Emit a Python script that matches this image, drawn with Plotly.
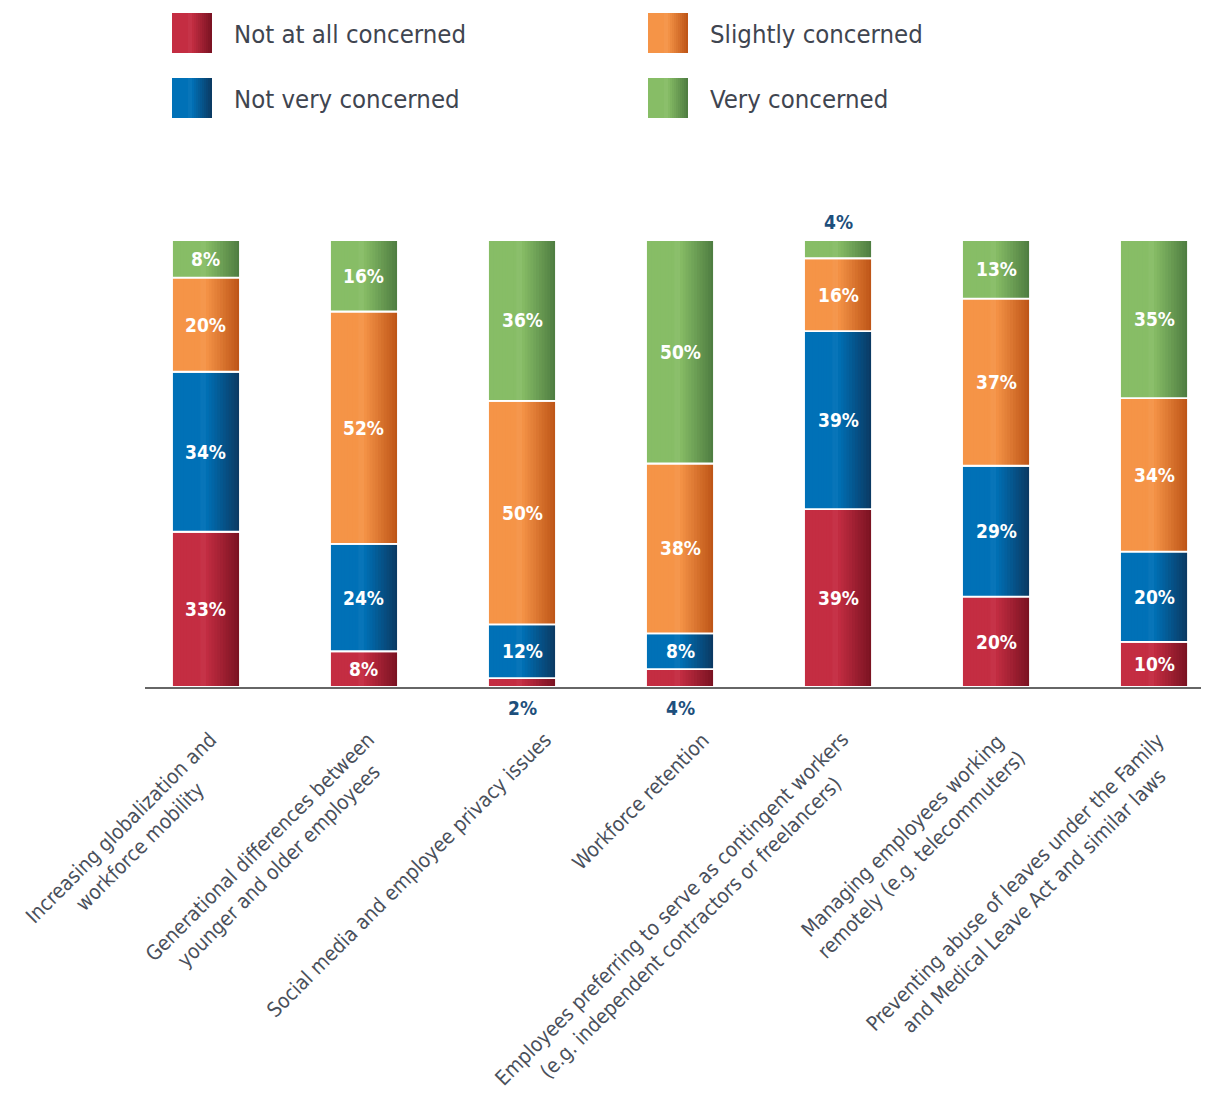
import plotly.graph_objects as go

# ---------------- data ----------------
categories = [
    "Increasing globalization and workforce mobility",
    "Generational differences between younger and older employees",
    "Social media and employee privacy issues",
    "Workforce retention",
    "Employees preferring to serve as contingent workers (e.g. independent contractors or freelancers)",
    "Managing employees working remotely (e.g. telecommuters)",
    "Preventing abuse of leaves under the Family and Medical Leave Act and similar laws",
]
category_labels = [
    "Increasing globalization and<br>workforce mobility",
    "Generational differences between<br>younger and older employees",
    "Social media and employee privacy issues",
    "Workforce retention",
    "Employees preferring to serve as contingent workers<br>(e.g. independent contractors or freelancers)",
    "Managing employees working<br>remotely (e.g. telecommuters)",
    "Preventing abuse of leaves under the Family<br>and Medical Leave Act and similar laws",
]
series_names = ["Not at all concerned", "Not very concerned", "Slightly concerned", "Very concerned"]
not_at_all = [33, 8, 2, 4, 39, 20, 10]
not_very = [34, 24, 12, 8, 39, 29, 20]
slightly = [20, 52, 50, 38, 16, 37, 34]
very = [8, 16, 36, 50, 4, 13, 35]

# ---------------- styles ----------------
light_colors = ["#C42D42", "#0071B7", "#F59447", "#87BD66"]
dark_colors = ["#781221", "#0B3860", "#BC5316", "#4D7B40"]
FONT = "Liberation Sans Narrow, DejaVu Sans Condensed, Arial Narrow, sans-serif"
W = 0.43
N = 24

series_values = [not_at_all, not_very, slightly, very]
totals = [sum(v[i] for v in series_values) for i in range(len(categories))]
pct = [[v[i] / totals[i] * 100 for i in range(len(categories))] for v in series_values]
bases = []
run = [0.0] * len(categories)
for p in pct:
    bases.append(run[:])
    run = [run[i] + p[i] for i in range(len(categories))]


def hex2rgb(h):
    h = h.lstrip("#")
    return [int(h[i:i + 2], 16) for i in (0, 2, 4)]


def mix(c1, c2, f):
    a, b = hex2rgb(c1), hex2rgb(c2)
    return "rgb(%d,%d,%d)" % tuple(round(a[j] + (b[j] - a[j]) * f) for j in range(3))


def grad_color(light, dark, t):
    if t < 0.42:
        return mix(light, dark, 0.0)
    if t < 0.5:
        return mix(light, "#FFFFFF", 0.03)
    return mix(light, dark, (t - 0.5) / 0.5)


fig = go.Figure()
for s in range(4):
    for k in range(N):
        t = (k + 0.5) / N
        fig.add_trace(go.Bar(
            x=categories, y=pct[s], base=bases[s],
            width=W * (1 - k / N), offset=-W / 2 + k * W / N,
            marker=dict(color=grad_color(light_colors[s], dark_colors[s], t), line=dict(width=0)),
            hoverinfo="skip", showlegend=False,
        ))
    fig.add_trace(go.Bar(
        x=categories, y=pct[s], base=bases[s], width=W, offset=-W / 2,
        name=series_names[s],
        marker=dict(color="rgba(0,0,0,0)", line=dict(color="white", width=1.8)),
        customdata=series_values[s],
        hovertemplate="%{x}<br>" + series_names[s] + ": %{customdata}%<extra></extra>",
        showlegend=False,
    ))

annotations = []
for s in range(4):
    for i, c in enumerate(categories):
        v = series_values[s][i]
        if v >= 5:
            annotations.append(dict(
                x=c, y=bases[s][i] + pct[s][i] / 2, xref="x", yref="y",
                text=f"{v}%", showarrow=False,
                font=dict(family=FONT, size=19, color="white", weight="bold"),
            ))
        else:
            if s == 0:
                y, ys = 0, -21
            else:
                y, ys = 100, 18
            annotations.append(dict(
                x=c, y=y, xref="x", yref="y", yshift=ys,
                text=f"{v}%", showarrow=False,
                font=dict(family=FONT, size=19, color="#1D4F7C", weight="bold"),
            ))

for i, c in enumerate(categories):
    annotations.append(dict(
        x=c, y=0, xref="x", yref="paper", xshift=37, yshift=-38,
        xanchor="right", yanchor="top", textangle=-45, align="center",
        text=category_labels[i], showarrow=False,
        font=dict(family=FONT, size=20.5, color="#4A505B"),
    ))

# page offset (body margin) compensation: figure starts at (8, 8) in the page
OFF = 8
L, T, PW, PH = 145 - OFF, 240 - OFF, 1064, 447
FIG_W, FIG_H = 1209 - OFF, 1100 - 2 * OFF


def px2paper(px, py):
    # px, py are page pixel positions
    return (px - OFF - L) / PW, (T + PH - (py - OFF)) / PH


shapes = []
legend_pos = [(172, 13), (172, 78), (648, 13), (648, 78)]
for s in range(4):
    sx, sy = legend_pos[s]
    M = 20
    for k in range(M):
        t = (k + 0.5) / M
        x0, y0 = px2paper(sx + 40 * k / M, sy)
        x1, y1 = px2paper(sx + 40, sy + 40)
        shapes.append(dict(type="rect", xref="paper", yref="paper", x0=x0, x1=x1, y0=y1, y1=y0,
                           fillcolor=grad_color(light_colors[s], dark_colors[s], t), line=dict(width=0),
                           layer="above"))
    tx, ty = px2paper(sx + 60, sy + 21)
    annotations.append(dict(x=tx, y=ty, xref="paper", yref="paper", xanchor="left", yanchor="middle",
                            text=series_names[s], showarrow=False,
                            font=dict(family=FONT, size=25.5, color="#3F4550")))

fig.update_layout(
    width=FIG_W, height=FIG_H,
    margin=dict(l=L, r=0, t=T, b=FIG_H - T - PH, pad=0),
    barmode="overlay",
    paper_bgcolor="white", plot_bgcolor="white",
    showlegend=False,
    xaxis=dict(type="category", range=[-0.386, 6.348], showline=True, linecolor="#666666", linewidth=2,
               showticklabels=False, ticks="", showgrid=False, zeroline=False, fixedrange=True),
    yaxis=dict(range=[0, 100], visible=False, fixedrange=True),
    annotations=annotations,
    shapes=shapes,
    font=dict(family=FONT),
)

fig.write_html("out.html")
